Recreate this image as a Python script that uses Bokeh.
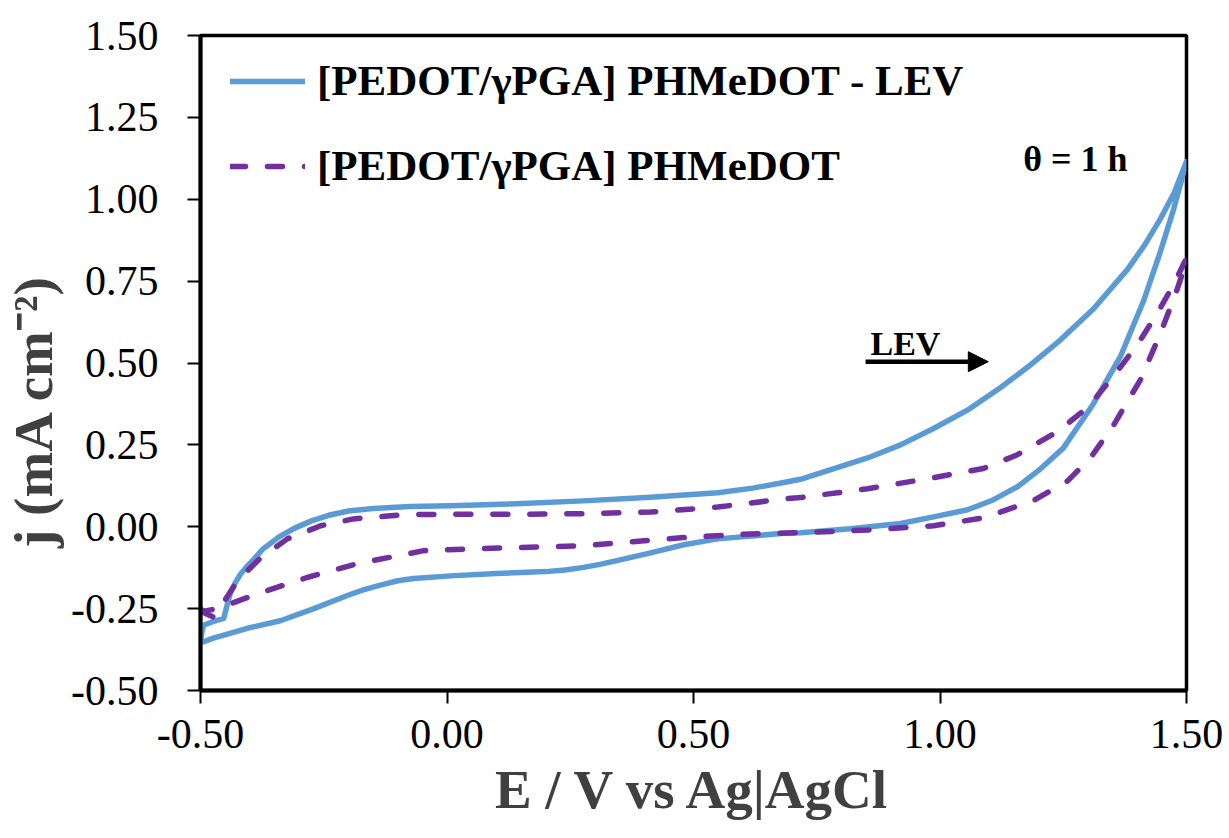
from bokeh.plotting import figure
from bokeh.models import Range1d, FixedTicker, Legend, LegendItem, Arrow, NormalHead, Label
from bokeh.embed import file_html
from bokeh.resources import INLINE

# ---- data ----
lev_fwd_E = [-0.500, -0.497, -0.493, -0.475, -0.453, -0.447, -0.440, -0.430, -0.419, -0.405, -0.392,
             -0.375, -0.340, -0.310, -0.275, -0.240, -0.200, -0.150, -0.075, 0.007, 0.140, 0.277,
             0.413, 0.549, 0.620, 0.683, 0.717, 0.780, 0.853, 0.920, 0.987, 1.060, 1.123, 1.180,
             1.244, 1.311, 1.380, 1.415, 1.447, 1.475, 1.500]
lev_fwd_j = [-0.355, -0.320, -0.300, -0.290, -0.280, -0.245, -0.205, -0.172, -0.145, -0.120, -0.100,
             -0.070, -0.030, -0.005, 0.018, 0.035, 0.048, 0.056, 0.062, 0.064, 0.070, 0.079,
             0.090, 0.104, 0.118, 0.135, 0.145, 0.175, 0.210, 0.250, 0.300, 0.360, 0.425, 0.490,
             0.570, 0.665, 0.785, 0.860, 0.940, 1.020, 1.115]
lev_rev_E = [1.500, 1.474, 1.447, 1.413, 1.366, 1.311, 1.250, 1.200, 1.157, 1.105, 1.056, 0.987,
             0.920, 0.818, 0.717, 0.683, 0.549, 0.480, 0.413, 0.340, 0.310, 0.277, 0.240, 0.200,
             0.100, 0.007, -0.068, -0.100, -0.135, -0.170, -0.202, -0.270, -0.338, -0.405, -0.474, -0.500]
lev_rev_j = [1.115, 0.970, 0.840, 0.690, 0.520, 0.375, 0.240, 0.172, 0.122, 0.080, 0.052, 0.030,
             0.010, -0.006, -0.018, -0.020, -0.037, -0.055, -0.080, -0.105, -0.115, -0.124, -0.132, -0.137,
             -0.143, -0.150, -0.158, -0.165, -0.178, -0.193, -0.210, -0.250, -0.287, -0.310, -0.340, -0.355]

ref_fwd_E = [-0.500, -0.490, -0.475, -0.466, -0.455, -0.425, -0.378, -0.324, -0.256, -0.190, -0.088,
             0.014, 0.150, 0.277, 0.413, 0.549, 0.683, 0.717, 0.853, 0.987, 1.088, 1.157, 1.238,
             1.300, 1.352, 1.400, 1.440, 1.474, 1.500]
ref_fwd_j = [-0.250, -0.265, -0.275, -0.260, -0.235, -0.165, -0.095, -0.037, 0.003, 0.024, 0.037,
             0.038, 0.038, 0.040, 0.045, 0.060, 0.085, 0.089, 0.116, 0.150, 0.178, 0.220, 0.290,
             0.365, 0.460, 0.555, 0.650, 0.740, 0.820]
ref_rev_E = [1.500, 1.480, 1.447, 1.407, 1.352, 1.305, 1.259, 1.190, 1.088, 0.987, 0.853, 0.717,
             0.616, 0.480, 0.277, 0.054, -0.047, -0.183, -0.284, -0.385, -0.466, -0.500]
ref_rev_j = [0.810, 0.720, 0.590, 0.450, 0.310, 0.210, 0.140, 0.080, 0.027, 0.003, -0.010, -0.018,
             -0.022, -0.033, -0.058, -0.067, -0.073, -0.113, -0.155, -0.205, -0.250, -0.260]

series_labels = ["[PEDOT/\u03b3PGA] PHMeDOT - LEV", "[PEDOT/\u03b3PGA] PHMeDOT"]
x_ticks = [-0.5, 0.0, 0.5, 1.0, 1.5]
x_tick_labels = ["-0.50", "0.00", "0.50", "1.00", "1.50"]
y_ticks = [-0.5, -0.25, 0.0, 0.25, 0.5, 0.75, 1.0, 1.25, 1.5]
y_tick_labels = ["-0.50", "-0.25", "0.00", "0.25", "0.50", "0.75", "1.00", "1.25", "1.50"]
x_title = "E / V vs Ag|AgCl"
y_title = "j (mA cm\u207b\u00b2)"

FONT = "Liberation Serif"
BLUE = "#5B9BD5"
PURPLE = "#7030A0"

p = figure(width=1229, height=838, output_backend="svg", toolbar_location=None,
           x_range=Range1d(-0.5, 1.5), y_range=Range1d(-0.5, 1.5),
           min_border_left=200, min_border_right=43, min_border_top=35, min_border_bottom=148)
p.background_fill_color = "white"
p.border_fill_color = "white"
p.outline_line_color = "black"
p.outline_line_width = 3.5
p.xgrid.visible = False
p.ygrid.visible = False

r1 = p.line(lev_fwd_E + lev_rev_E, lev_fwd_j + lev_rev_j, line_color=BLUE, line_width=5.5,
            line_join="round", line_cap="round")
r2 = p.line(ref_fwd_E + ref_rev_E, ref_fwd_j + ref_rev_j, line_color=PURPLE, line_width=5.5,
            line_dash="15 22", line_cap="round", line_join="round")

for ax in (p.xaxis[0], p.yaxis[0]):
    ax.axis_line_width = 4
    ax.axis_line_color = "black"
    ax.major_tick_line_width = 2
    ax.major_tick_line_color = "black"
    ax.major_tick_in = 0
    ax.major_tick_out = 13
    ax.minor_tick_line_color = None
    ax.major_label_text_font = FONT
    ax.major_label_text_font_size = "42px"
    ax.major_label_text_color = "black"
    ax.axis_label_text_font = FONT
    ax.axis_label_text_font_style = "bold"
    ax.axis_label_text_font_size = "55px"
    ax.axis_label_text_color = "#404040"

p.xaxis.ticker = FixedTicker(ticks=x_ticks)
p.xaxis.major_label_overrides = {t: s for t, s in zip(x_ticks, x_tick_labels)}
p.yaxis.ticker = FixedTicker(ticks=y_ticks)
p.yaxis.major_label_overrides = {t: s for t, s in zip(y_ticks, y_tick_labels)}
p.xaxis.major_label_standoff = 16
p.yaxis.major_label_standoff = 29
p.xaxis.axis_label = x_title
p.yaxis.axis_label = y_title + "\u00a0" * 7
p.xaxis.axis_label_standoff = 8
p.yaxis.axis_label_standoff = 4

legend = Legend(items=[LegendItem(label=series_labels[0], renderers=[r1]),
                       LegendItem(label=series_labels[1], renderers=[r2])],
                location=(20, 490), padding=10, margin=0, spacing=36,
                glyph_width=75, glyph_height=40, label_standoff=12,
                label_text_font=FONT, label_text_font_style="bold", label_text_font_size="43px",
                label_text_color="black", border_line_alpha=0, background_fill_alpha=0)
p.add_layout(legend)

p.add_layout(Arrow(end=NormalHead(size=20, fill_color="black", line_color="black", line_width=1),
                   x_start=0.849, y_start=0.504, x_end=1.098, y_end=0.504,
                   line_width=4.5, line_color="black"))
p.add_layout(Label(x=0.859, y=0.559, text="LEV", text_font=FONT, text_font_style="bold",
                   text_font_size="34px", text_color="black", text_baseline="alphabetic"))
p.add_layout(Label(x=1.169, y=1.124, text="\u03b8 = 1 h", text_font=FONT, text_font_style="bold",
                   text_font_size="36px", text_color="black", text_baseline="alphabetic"))

open("out.html", "w").write(file_html(p, INLINE))
